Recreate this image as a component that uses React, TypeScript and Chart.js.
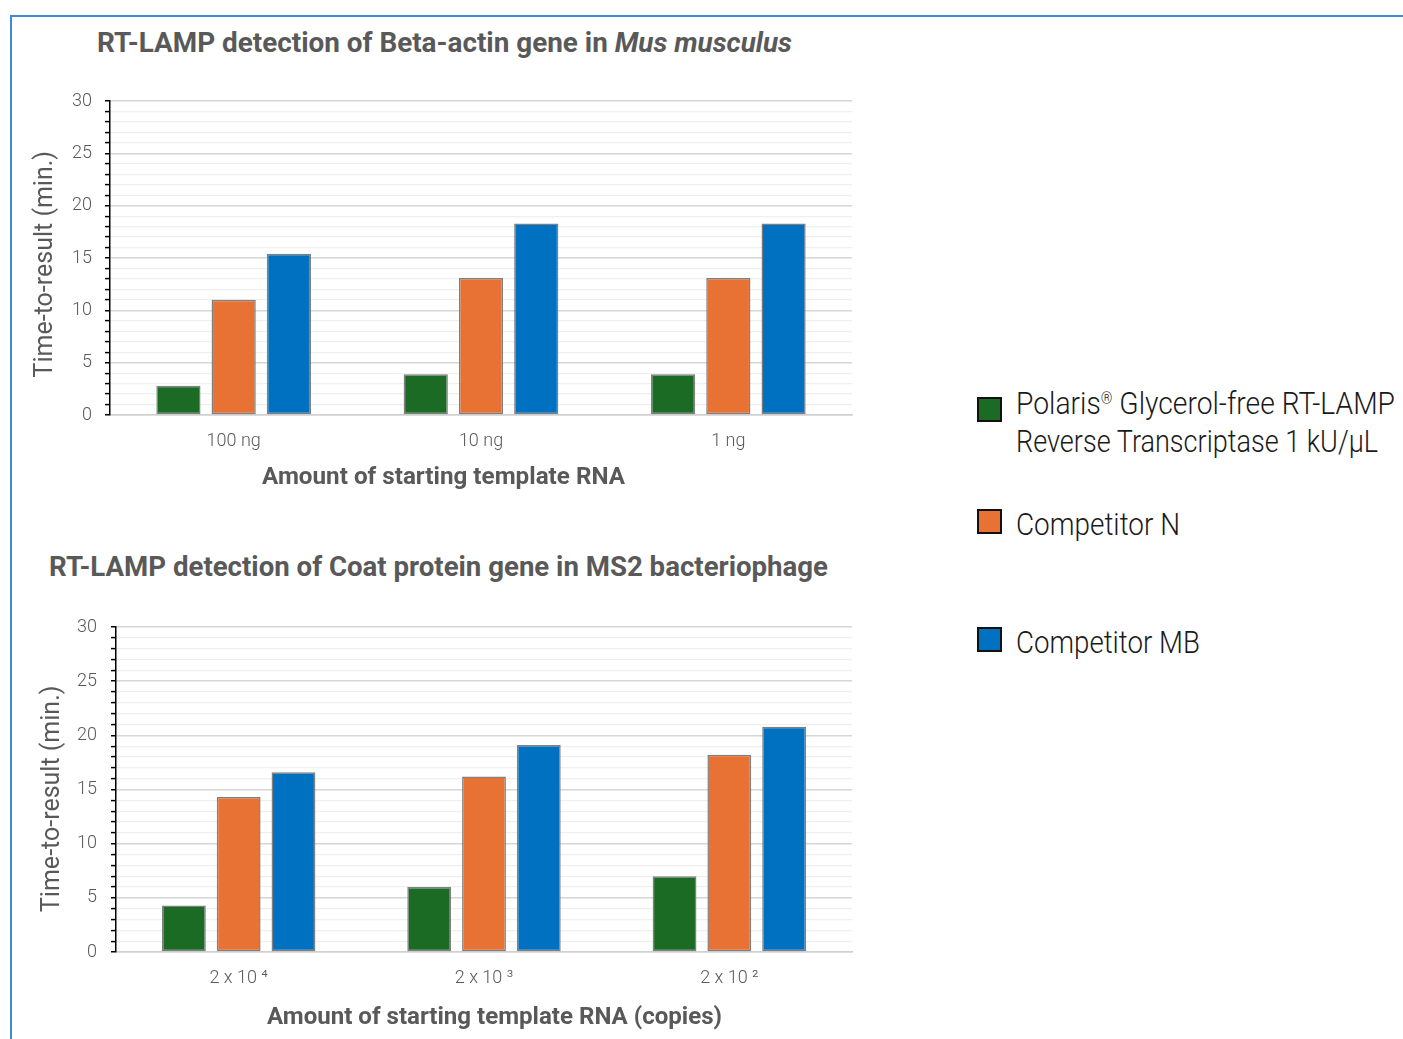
import React, { useEffect, useLayoutEffect, useRef } from "react";
import { Chart, registerables } from "chart.js";

Chart.register(...registerables);

// ---- data ----
const seriesNames = ["Polaris® Glycerol-free RT-LAMP Reverse Transcriptase 1 kU/µL", "Competitor N", "Competitor MB"];
const seriesColors = ["#1b6b24", "#e87234", "#0070c0"];

const betaCategories = ["100 ng", "10 ng", "1 ng"];
const betaPolaris = [2.8, 3.9, 3.9];
const betaCompetitorN = [11.0, 13.1, 13.1];
const betaCompetitorMB = [15.4, 18.3, 18.3];

const ms2Categories = ["2 x 10 ⁴", "2 x 10 ³", "2 x 10 ²"];
const ms2Polaris = [4.3, 6.0, 7.0];
const ms2CompetitorN = [14.3, 16.2, 18.2];
const ms2CompetitorMB = [16.6, 19.1, 20.8];

const yMin = 0;
const yMax = 30;
const yLabelStep = 5;
const yTitle = "Time-to-result (min.)";

const TEXT_GREY = "#595959";
const TICK_FONT = "Roboto";
const TITLE_FONT = "Roboto, sans-serif";

type BarChartProps = {
  left: number;
  top: number;
  width: number;
  height: number;
  categories: string[];
  values: number[][];
  padTop: number;
  padRight: number;
  yWidth: number;
  xHeight: number;
  yTitlePad: number;
  yTitleShift: string;
  yTickPad: number;
  xTickPad: number;
};

function BarChart(p: BarChartProps) {
  const ref = useRef<HTMLCanvasElement | null>(null);
  useEffect(() => {
    if (!ref.current) return;
    const chart = new Chart(ref.current, {
      type: "bar",
      data: {
        labels: p.categories,
        datasets: p.values.map((vals, i) => ({
          label: seriesNames[i],
          data: vals,
          backgroundColor: seriesColors[i],
          borderColor: "#7f7f7f",
          borderWidth: 1.5,
          borderSkipped: false,
          categoryPercentage: 0.67,
          barPercentage: 0.8,
        })),
      },
      options: {
        responsive: false,
        animation: false,
        maintainAspectRatio: false,
        layout: { padding: { top: p.padTop, right: p.padRight, left: 0, bottom: 0 } },
        plugins: { legend: { display: false }, tooltip: { enabled: false }, title: { display: false } },
        scales: {
          x: {
            grid: { display: false, drawTicks: false },
            border: { display: true, color: "#d0d0d0", width: 1.5 },
            ticks: { color: TEXT_GREY, font: { family: TICK_FONT, size: 18, weight: "300" }, padding: p.xTickPad },
            afterFit: (s: any) => { s.height = p.xHeight; },
          },
          y: {
            min: yMin,
            max: yMax,
            border: { display: true, color: "#000000", width: 1.5 },
            grid: {
              color: (ctx: any) => (ctx.tick && ctx.tick.value % yLabelStep === 0 ? "#d6d6d6" : "#efefef"),
              lineWidth: (ctx: any) => (ctx.tick && ctx.tick.value % yLabelStep === 0 ? 1.5 : 1.2),
              tickColor: "#000000",
              tickLength: 5,
              tickWidth: 1.5,
            },
            ticks: {
              stepSize: 1,
              autoSkip: false,
              color: TEXT_GREY,
              padding: p.yTickPad,
              font: { family: TICK_FONT, size: 18, weight: "300" },
              callback: (v: any) => (Number(v) % yLabelStep === 0 ? String(v) : ""),
            },
            title: {
              display: true,
              text: yTitle + p.yTitleShift,
              color: TEXT_GREY,
              font: { family: TICK_FONT, size: 25, weight: "400" },
              padding: { top: p.yTitlePad, bottom: 0 },
            },
            afterFit: (s: any) => { s.width = p.yWidth; },
          },
        },
      },
    });
    return () => chart.destroy();
  }, []);
  return (
    <canvas
      ref={ref}
      width={p.width}
      height={p.height}
      style={{ position: "absolute", left: p.left, top: p.top, width: p.width, height: p.height }}
    />
  );
}

const abs = (o: React.CSSProperties): React.CSSProperties => ({ position: "absolute", ...o });

// Text squeezed horizontally to a target width (the original uses a condensed face)
function FitText({ left, top, width, style, children }: { left: number; top: number; width: number; style: React.CSSProperties; children: React.ReactNode }) {
  const ref = useRef<HTMLDivElement | null>(null);
  useLayoutEffect(() => {
    const el = ref.current;
    if (!el) return;
    el.style.transform = "none";
    const w = el.getBoundingClientRect().width;
    if (w > 0) el.style.transform = `scaleX(${width / w})`;
  });
  return (
    <div ref={ref} style={abs({ left, top, whiteSpace: "nowrap", transformOrigin: "0 0", ...style })}>
      {children}
    </div>
  );
}

const titleStyle: React.CSSProperties = { fontFamily: TITLE_FONT, fontWeight: 700, fontSize: 28, lineHeight: "34px", color: TEXT_GREY };
const axisTitleStyle: React.CSSProperties = { fontFamily: TITLE_FONT, fontWeight: 700, fontSize: 23, lineHeight: "30px", color: TEXT_GREY };
const legendStyle: React.CSSProperties = { fontFamily: "Roboto", fontWeight: 300, fontSize: 31, lineHeight: "38px", color: "#1a1a1a" };

function LegendBox({ color, top }: { color: string; top: number }) {
  return <div style={abs({ left: 977, top, width: 25, height: 25, boxSizing: "border-box", border: "2.5px solid #111", background: color })} />;
}

export default function App() {
  return (
    <div style={abs({ left: 0, top: 0, width: 1403, height: 1039, overflow: "hidden", background: "#fff" })}>
      <div style={abs({ left: 10, top: 15, width: 1500, height: 1100, borderTop: "2px solid #3d8bd6", borderLeft: "2px solid #3d8bd6" })} />

      <FitText left={97} top={26} width={695} style={titleStyle}>
        RT-LAMP detection of Beta-actin gene in <i>Mus musculus</i>
      </FitText>
      <BarChart
        left={20} top={71} width={850} height={434}
        categories={betaCategories}
        values={[betaPolaris, betaCompetitorN, betaCompetitorMB]}
        padTop={30} padRight={18} yWidth={90} xHeight={90}
        yTitlePad={11} yTitleShift={"  "} yTickPad={13} xTickPad={16}
      />
      <FitText left={262} top={462} width={363} style={axisTitleStyle}>
        Amount of starting template RNA
      </FitText>

      <FitText left={49} top={550} width={779} style={titleStyle}>
        RT-LAMP detection of Coat protein gene in MS2 bacteriophage
      </FitText>
      <BarChart
        left={20} top={597} width={850} height={442}
        categories={ms2Categories}
        values={[ms2Polaris, ms2CompetitorN, ms2CompetitorMB]}
        padTop={30} padRight={18} yWidth={96} xHeight={87}
        yTitlePad={18} yTitleShift={"   "} yTickPad={14} xTickPad={16}
      />
      <FitText left={267} top={1002} width={455} style={axisTitleStyle}>
        Amount of starting template RNA (copies)
      </FitText>

      <LegendBox color={seriesColors[0]} top={397} />
      <LegendBox color={seriesColors[1]} top={509} />
      <LegendBox color={seriesColors[2]} top={627} />
      <FitText left={1016} top={385} width={379} style={legendStyle}>
        Polaris<sup style={{ fontSize: 16, verticalAlign: "top", lineHeight: "28px" }}>®</sup> Glycerol-free RT-LAMP
      </FitText>
      <FitText left={1016} top={423} width={362} style={legendStyle}>
        Reverse Transcriptase 1 kU/µL
      </FitText>
      <FitText left={1016} top={506} width={164} style={legendStyle}>
        {seriesNames[1]}
      </FitText>
      <FitText left={1016} top={624} width={184} style={legendStyle}>
        {seriesNames[2]}
      </FitText>
    </div>
  );
}
